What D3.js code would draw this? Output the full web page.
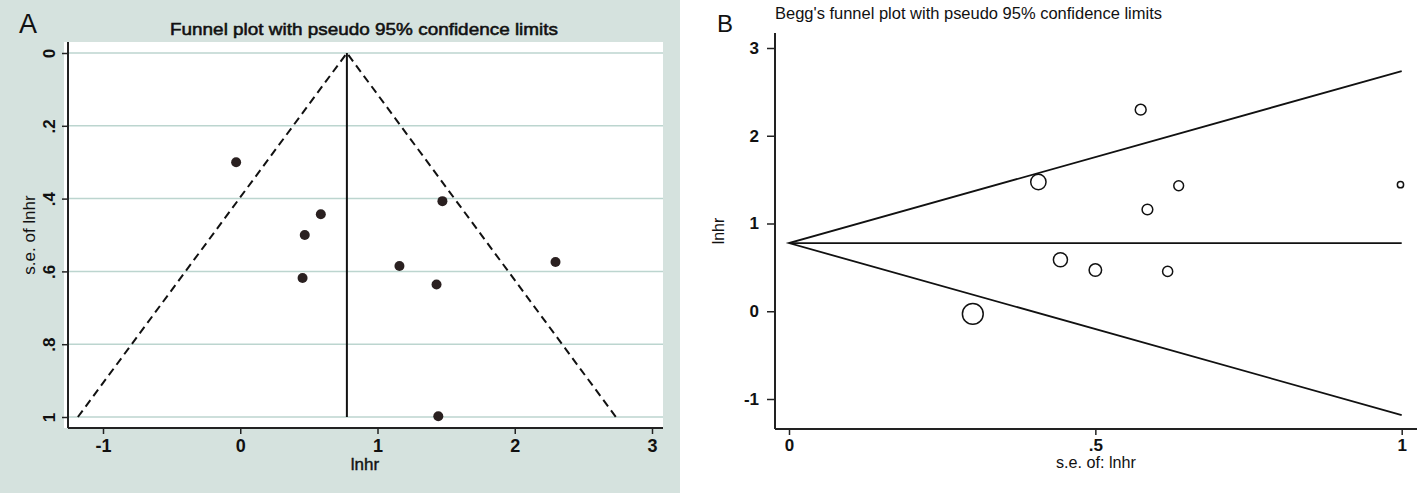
<!DOCTYPE html>
<meta charset="utf-8">
<script src="https://d3js.org/d3.v7.min.js"></script>
<style>
  body { margin: 0; background: #fff; }
  text { font-family: "Liberation Sans", Arial, sans-serif; fill: #111; }
</style>
<body>
<div id="vis"></div>
<script>
// study values (same 9 studies in both panels)
var lnhr = [-0.03, 0.587, 0.47, 0.454, 1.473, 1.16, 1.43, 2.297, 1.443];
var seLnhr = [0.300, 0.443, 0.500, 0.618, 0.407, 0.585, 0.636, 0.574, 0.998];
var pooled = 0.777;          // fixed effect estimate (apex / centre line)
var seLimits = [0, 1];       // pseudo 95% limits drawn from se 0 to se 1

// tick labels
var ticksAx = [-1, 0, 1, 2, 3];
var ticksAy = [0, 0.2, 0.4, 0.6, 0.8, 1];
var ticksBx = [0, 0.5, 1];
var ticksBy = [-1, 0, 1, 2, 3];

// stata style: ".5" not "0.5", plain hyphen for negatives
var fmt = function(d) { return String(d).replace(/^0\./, ".").replace(/^-0\./, "-."); };

var W = 1417, H = 496;
var svg = d3.select("#vis").append("svg")
    .attr("width", W)
    .attr("height", H);

var studies = lnhr.map(function(d, i) { return {lnhr: d, se: seLnhr[i]}; });

// ---------------- panel A ----------------
var xA = d3.scaleLinear().domain([-1, 3]).range([103, 652]);
var yA = d3.scaleLinear().domain([0, 1]).range([53, 417]);
var a = {left: 68, right: 663, top: 42, bottom: 428};

svg.append("rect")
    .attr("x", 0).attr("y", 0)
    .attr("width", 680).attr("height", 493)
    .attr("fill", "#d5e2de");

svg.append("rect")
    .attr("x", a.left - 4).attr("y", a.top)
    .attr("width", a.right - a.left + 4).attr("height", a.bottom - a.top)
    .attr("fill", "#fff");

// grid
svg.append("g")
  .selectAll("line")
  .data(ticksAy)
  .enter()
  .append("line")
    .attr("x1", a.left).attr("x2", a.right)
    .attr("y1", function(d) { return yA(d); })
    .attr("y2", function(d) { return yA(d); })
    .attr("stroke", "#bcd5cf")
    .attr("stroke-width", 1.5);

// funnel (dashed)
var funnelA = d3.line()
    .x(function(d) { return xA(d[0]); })
    .y(function(d) { return yA(d[1]); });
svg.append("path")
    .attr("d", funnelA([[pooled - 1.96 * seLimits[1], seLimits[1]], [pooled, seLimits[0]], [pooled + 1.96 * seLimits[1], seLimits[1]]]))
    .attr("fill", "none")
    .attr("stroke", "#111")
    .attr("stroke-width", 2)
    .style("stroke-dasharray", "8,5");

svg.append("line")
    .attr("x1", xA(pooled)).attr("x2", xA(pooled))
    .attr("y1", yA(seLimits[0])).attr("y2", yA(seLimits[1]))
    .attr("stroke", "#111")
    .attr("stroke-width", 2);

// axes
var axAx = svg.append("g")
    .attr("transform", "translate(0," + a.bottom + ")")
    .call(d3.axisBottom(xA).tickValues(ticksAx).tickSize(6).tickPadding(5).tickFormat(fmt));
axAx.select(".domain").attr("d", "M" + a.left + ",0H" + a.right);
var axAy = svg.append("g")
    .attr("transform", "translate(" + a.left + ",0)")
    .call(d3.axisLeft(yA).tickValues(ticksAy).tickSize(6).tickFormat(fmt));
axAy.select(".domain").attr("d", "M0," + a.top + "V" + a.bottom);

[axAx, axAy].forEach(function(g) {
  g.select(".domain").attr("stroke", "#222").attr("stroke-width", 2);
  g.selectAll(".tick line").attr("stroke", "#222").attr("stroke-width", 1.5);
  g.selectAll(".tick text")
      .style("font-size", "18px")
      .style("font-weight", "bold")
      .style("font-family", "'Liberation Sans', Arial, sans-serif")
      .attr("fill", "#111");
});
axAy.selectAll(".tick text")
    .attr("x", 0).attr("dy", null)
    .attr("text-anchor", "middle")
    .style("font-size", "17px")
    .attr("transform", "translate(-13,0) rotate(-90)");

svg.append("g")
  .selectAll("circle")
  .data(studies)
  .enter()
  .append("circle")
    .attr("cx", function(d) { return xA(d.lnhr); })
    .attr("cy", function(d) { return yA(d.se); })
    .attr("r", 5)
    .attr("fill", "#2a2020");

svg.append("text")
    .attr("x", 364).attr("y", 35)
    .attr("text-anchor", "middle")
    .attr("textLength", 388).attr("lengthAdjust", "spacingAndGlyphs")
    .style("font-size", "17px")
    .style("stroke", "#111").style("stroke-width", 0.55)
    .text("Funnel plot with pseudo 95% confidence limits");

svg.append("text")
    .attr("x", 365).attr("y", 470)
    .attr("text-anchor", "middle")
    .style("font-size", "17px")
    .style("stroke", "#111").style("stroke-width", 0.4)
    .text("lnhr");

svg.append("text")
    .attr("transform", "translate(35," + (a.top + a.bottom) / 2 + ") rotate(-90)")
    .attr("text-anchor", "middle")
    .style("font-size", "17px")
    .text("s.e. of lnhr");

svg.append("text")
    .attr("x", 19).attr("y", 33)
    .style("font-size", "27px")
    .text("A");

// ---------------- panel B ----------------
var xB = d3.scaleLinear().domain([0, 1]).range([789, 1401.7]);
var yB = d3.scaleLinear().domain([-1, 3]).range([399, 48]);
var b = {left: 775, right: 1417, top: 33, bottom: 429};

var lineB = d3.line()
    .x(function(d) { return xB(d[0]); })
    .y(function(d) { return yB(d[1]); });

svg.append("path")
    .attr("d", lineB([[seLimits[1], pooled + 1.96 * seLimits[1]], [seLimits[0], pooled], [seLimits[1], pooled - 1.96 * seLimits[1]]]))
    .attr("fill", "none")
    .attr("stroke", "#111")
    .attr("stroke-width", 1.8);
svg.append("path")
    .attr("d", lineB([[seLimits[0], pooled], [seLimits[1], pooled]]))
    .attr("fill", "none")
    .attr("stroke", "#111")
    .attr("stroke-width", 1.8);

svg.append("g")
  .selectAll("circle")
  .data(studies)
  .enter()
  .append("circle")
    .attr("cx", function(d) { return xB(d.se); })
    .attr("cy", function(d) { return yB(d.lnhr); })
    .attr("r", function(d) { return 3.12 / d.se; })
    .attr("fill", "none")
    .attr("stroke", "#111")
    .attr("stroke-width", 1.5);

var axBx = svg.append("g")
    .attr("transform", "translate(0," + b.bottom + ")")
    .call(d3.axisBottom(xB).tickValues(ticksBx).tickSize(6).tickPadding(4).tickFormat(fmt));
axBx.select(".domain").attr("d", "M" + b.left + ",0H" + b.right);
var axBy = svg.append("g")
    .attr("transform", "translate(" + b.left + ",0)")
    .call(d3.axisLeft(yB).tickValues(ticksBy).tickSize(8).tickPadding(8).tickFormat(fmt));
axBy.select(".domain").attr("d", "M0," + b.top + "V" + b.bottom);

[axBx, axBy].forEach(function(g) {
  g.select(".domain").attr("stroke", "#222").attr("stroke-width", 2);
  g.selectAll(".tick line").attr("stroke", "#222").attr("stroke-width", 1.5);
  g.selectAll(".tick text")
      .style("font-size", "17px")
      .style("font-weight", "bold")
      .style("font-family", "'Liberation Sans', Arial, sans-serif")
      .attr("fill", "#111");
});

svg.append("text")
    .attr("x", 775).attr("y", 19)
    .attr("textLength", 387).attr("lengthAdjust", "spacingAndGlyphs")
    .style("font-size", "16px")
    .text("Begg's funnel plot with pseudo 95% confidence limits");

svg.append("text")
    .attr("x", 1096).attr("y", 468)
    .attr("text-anchor", "middle")
    .attr("textLength", 80).attr("lengthAdjust", "spacingAndGlyphs")
    .style("font-size", "16px")
    .text("s.e. of: lnhr");

svg.append("text")
    .attr("transform", "translate(724," + (b.top + b.bottom) / 2 + ") rotate(-90)")
    .attr("text-anchor", "middle")
    .style("font-size", "16px")
    .text("lnhr");

svg.append("text")
    .attr("x", 717).attr("y", 32)
    .style("font-size", "24px")
    .text("B");
</script>
</body>
